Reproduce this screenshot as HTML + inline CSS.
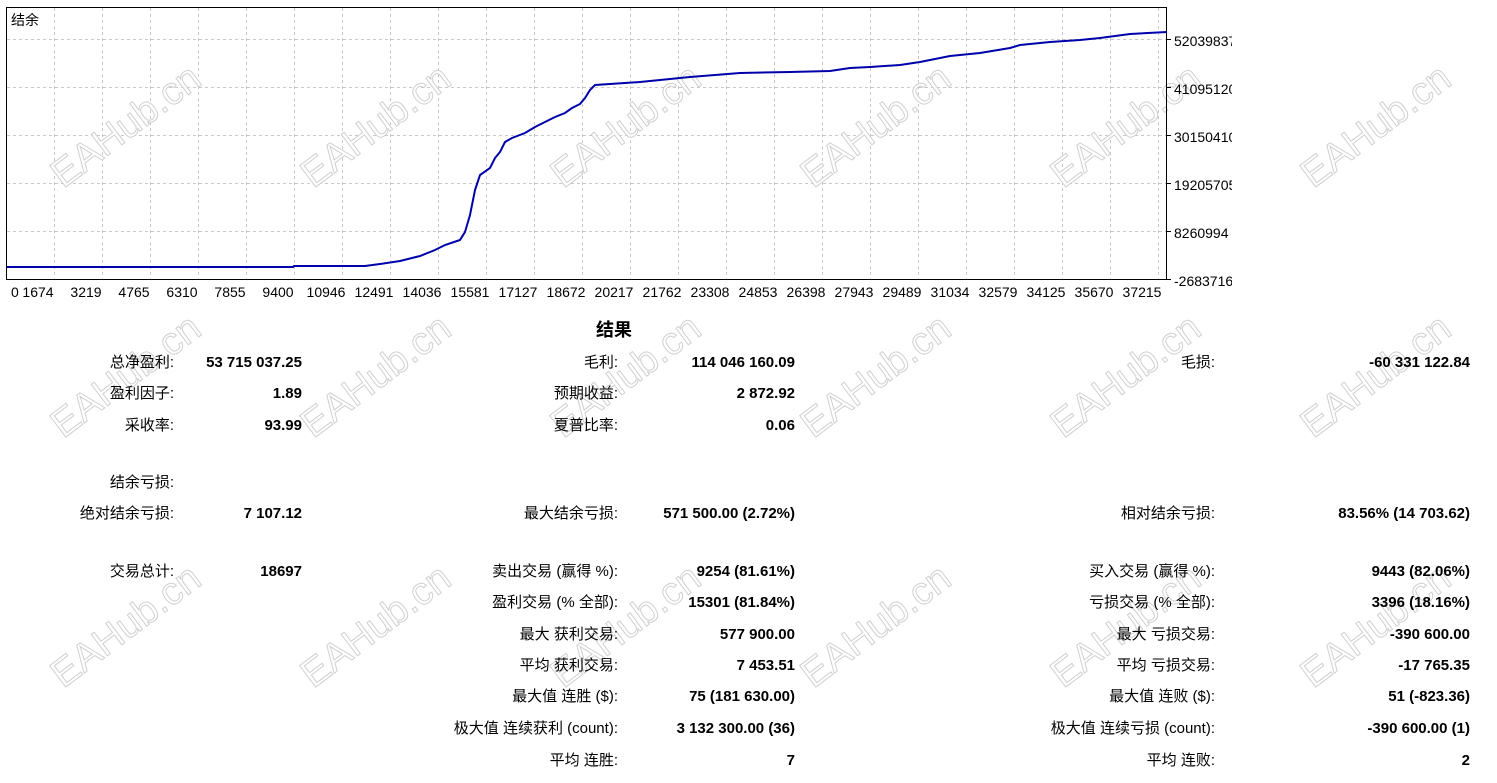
<!DOCTYPE html>
<html><head><meta charset="utf-8"><style>
body{margin:0;width:1497px;height:783px;background:#fff;position:relative;overflow:hidden;font-family:"Liberation Sans","Noto Sans CJK SC",sans-serif;}
.t{position:absolute;font-size:15px;line-height:18px;white-space:nowrap;color:#000}
.l{text-align:right}
.v{text-align:right;font-weight:bold}
</style></head><body>
<svg width="1497" height="783" style="position:absolute;left:0;top:0" font-family="Liberation Sans, Noto Sans CJK SC, sans-serif">
<g stroke="#c8c8c8" stroke-dasharray="3,3" stroke-width="1">
<line x1="7" y1="39.5" x2="1166" y2="39.5"/><line x1="7" y1="87.5" x2="1166" y2="87.5"/><line x1="7" y1="135.5" x2="1166" y2="135.5"/><line x1="7" y1="183.5" x2="1166" y2="183.5"/><line x1="7" y1="231.5" x2="1166" y2="231.5"/>
<line x1="54.5" y1="8" x2="54.5" y2="279"/><line x1="102.5" y1="8" x2="102.5" y2="279"/><line x1="150.5" y1="8" x2="150.5" y2="279"/><line x1="198.5" y1="8" x2="198.5" y2="279"/><line x1="246.5" y1="8" x2="246.5" y2="279"/><line x1="294.5" y1="8" x2="294.5" y2="279"/><line x1="342.5" y1="8" x2="342.5" y2="279"/><line x1="390.5" y1="8" x2="390.5" y2="279"/><line x1="438.5" y1="8" x2="438.5" y2="279"/><line x1="486.5" y1="8" x2="486.5" y2="279"/><line x1="534.5" y1="8" x2="534.5" y2="279"/><line x1="582.5" y1="8" x2="582.5" y2="279"/><line x1="630.5" y1="8" x2="630.5" y2="279"/><line x1="678.5" y1="8" x2="678.5" y2="279"/><line x1="726.5" y1="8" x2="726.5" y2="279"/><line x1="774.5" y1="8" x2="774.5" y2="279"/><line x1="822.5" y1="8" x2="822.5" y2="279"/><line x1="870.5" y1="8" x2="870.5" y2="279"/><line x1="918.5" y1="8" x2="918.5" y2="279"/><line x1="966.5" y1="8" x2="966.5" y2="279"/><line x1="1014.5" y1="8" x2="1014.5" y2="279"/><line x1="1062.5" y1="8" x2="1062.5" y2="279"/><line x1="1110.5" y1="8" x2="1110.5" y2="279"/><line x1="1158.5" y1="8" x2="1158.5" y2="279"/>
</g>
<g fill="#fff" stroke="#d0d0d0" stroke-width="1" font-size="39">
<text transform="translate(125,125) rotate(-37)" text-anchor="middle" dy="14">EAHub.cn</text>
<text transform="translate(375,125) rotate(-37)" text-anchor="middle" dy="14">EAHub.cn</text>
<text transform="translate(625,125) rotate(-37)" text-anchor="middle" dy="14">EAHub.cn</text>
<text transform="translate(875,125) rotate(-37)" text-anchor="middle" dy="14">EAHub.cn</text>
<text transform="translate(1125,125) rotate(-37)" text-anchor="middle" dy="14">EAHub.cn</text>
<text transform="translate(1375,125) rotate(-37)" text-anchor="middle" dy="14">EAHub.cn</text>
<text transform="translate(125,375) rotate(-37)" text-anchor="middle" dy="14">EAHub.cn</text>
<text transform="translate(375,375) rotate(-37)" text-anchor="middle" dy="14">EAHub.cn</text>
<text transform="translate(625,375) rotate(-37)" text-anchor="middle" dy="14">EAHub.cn</text>
<text transform="translate(875,375) rotate(-37)" text-anchor="middle" dy="14">EAHub.cn</text>
<text transform="translate(1125,375) rotate(-37)" text-anchor="middle" dy="14">EAHub.cn</text>
<text transform="translate(1375,375) rotate(-37)" text-anchor="middle" dy="14">EAHub.cn</text>
<text transform="translate(125,625) rotate(-37)" text-anchor="middle" dy="14">EAHub.cn</text>
<text transform="translate(375,625) rotate(-37)" text-anchor="middle" dy="14">EAHub.cn</text>
<text transform="translate(625,625) rotate(-37)" text-anchor="middle" dy="14">EAHub.cn</text>
<text transform="translate(875,625) rotate(-37)" text-anchor="middle" dy="14">EAHub.cn</text>
<text transform="translate(1125,625) rotate(-37)" text-anchor="middle" dy="14">EAHub.cn</text>
<text transform="translate(1375,625) rotate(-37)" text-anchor="middle" dy="14">EAHub.cn</text>
</g>
<rect x="6.5" y="7.5" width="1160" height="272" fill="none" stroke="#000" stroke-width="1"/>
<polyline fill="none" stroke="#0000aa" stroke-width="2" points="7,267 293,267 294,266 365,266 380,264 400,261 420,256 435,250 445,245 460,240 465,232 470,215 475,190 480,175 490,168 495,158 500,152 505,142 512,138 525,133 535,127 545,122 555,117 565,113 572,108 580,104 585,98 590,90 595,85 640,82 690,77 740,73 790,72 830,71 850,68 870,67 900,65 920,62 935,59 950,56 980,53 1010,48 1020,45 1050,42 1080,40 1100,38 1130,34 1167,32"/>
<g font-size="14" fill="#000">
<text x="11" y="25">结余</text>
<text x="11" y="297">0</text>
<g text-anchor="middle">
<text x="38" y="297">1674</text><text x="86" y="297">3219</text><text x="134" y="297">4765</text><text x="182" y="297">6310</text><text x="230" y="297">7855</text><text x="278" y="297">9400</text><text x="326" y="297">10946</text><text x="374" y="297">12491</text><text x="422" y="297">14036</text><text x="470" y="297">15581</text><text x="518" y="297">17127</text><text x="566" y="297">18672</text><text x="614" y="297">20217</text><text x="662" y="297">21762</text><text x="710" y="297">23308</text><text x="758" y="297">24853</text><text x="806" y="297">26398</text><text x="854" y="297">27943</text><text x="902" y="297">29489</text><text x="950" y="297">31034</text><text x="998" y="297">32579</text><text x="1046" y="297">34125</text><text x="1094" y="297">35670</text><text x="1142" y="297">37215</text>
</g>
<g stroke="#000"><line x1="1167" y1="39.5" x2="1171" y2="39.5"/><line x1="1167" y1="87.5" x2="1171" y2="87.5"/><line x1="1167" y1="135.5" x2="1171" y2="135.5"/><line x1="1167" y1="183.5" x2="1171" y2="183.5"/><line x1="1167" y1="231.5" x2="1171" y2="231.5"/><line x1="1167" y1="279.5" x2="1171" y2="279.5"/></g>
<svg x="1172" y="0" width="60" height="300"><g font-size="14">
<text x="2" y="46">52039837</text><text x="2" y="94">41095120</text><text x="2" y="142">30150410</text><text x="2" y="190">19205705</text><text x="2" y="238">8260994</text><text x="2" y="286">-2683716</text></g></svg>
</g>
</svg>
<div class="t" style="left:596px;top:320px;font-size:18px;font-weight:bold;line-height:20px">结果</div>

<div class="t l" style="right:1323px;top:354px">总净盈利:</div><div class="t v" style="right:1195px;top:354px">53 715 037.25</div>
<div class="t l" style="right:1323px;top:385px">盈利因子:</div><div class="t v" style="right:1195px;top:385px">1.89</div>
<div class="t l" style="right:1323px;top:417px">采收率:</div><div class="t v" style="right:1195px;top:417px">93.99</div>
<div class="t l" style="right:1323px;top:474px">结余亏损:</div>
<div class="t l" style="right:1323px;top:505px">绝对结余亏损:</div><div class="t v" style="right:1195px;top:505px">7 107.12</div>
<div class="t l" style="right:1323px;top:563px">交易总计:</div><div class="t v" style="right:1195px;top:563px">18697</div>

<div class="t l" style="right:879px;top:354px">毛利:</div><div class="t v" style="right:702px;top:354px">114 046 160.09</div>
<div class="t l" style="right:879px;top:385px">预期收益:</div><div class="t v" style="right:702px;top:385px">2 872.92</div>
<div class="t l" style="right:879px;top:417px">夏普比率:</div><div class="t v" style="right:702px;top:417px">0.06</div>
<div class="t l" style="right:879px;top:505px">最大结余亏损:</div><div class="t v" style="right:702px;top:505px">571 500.00 (2.72%)</div>
<div class="t l" style="right:879px;top:563px">卖出交易 (赢得 %):</div><div class="t v" style="right:702px;top:563px">9254 (81.61%)</div>
<div class="t l" style="right:879px;top:594px">盈利交易 (% 全部):</div><div class="t v" style="right:702px;top:594px">15301 (81.84%)</div>
<div class="t l" style="right:879px;top:626px">最大 获利交易:</div><div class="t v" style="right:702px;top:626px">577 900.00</div>
<div class="t l" style="right:879px;top:657px">平均 获利交易:</div><div class="t v" style="right:702px;top:657px">7 453.51</div>
<div class="t l" style="right:879px;top:688px">最大值 连胜 ($):</div><div class="t v" style="right:702px;top:688px">75 (181 630.00)</div>
<div class="t l" style="right:879px;top:720px">极大值 连续获利 (count):</div><div class="t v" style="right:702px;top:720px">3 132 300.00 (36)</div>
<div class="t l" style="right:879px;top:752px">平均 连胜:</div><div class="t v" style="right:702px;top:752px">7</div>

<div class="t l" style="right:282px;top:354px">毛损:</div><div class="t v" style="right:27px;top:354px">-60 331 122.84</div>
<div class="t l" style="right:282px;top:505px">相对结余亏损:</div><div class="t v" style="right:27px;top:505px">83.56% (14 703.62)</div>
<div class="t l" style="right:282px;top:563px">买入交易 (赢得 %):</div><div class="t v" style="right:27px;top:563px">9443 (82.06%)</div>
<div class="t l" style="right:282px;top:594px">亏损交易 (% 全部):</div><div class="t v" style="right:27px;top:594px">3396 (18.16%)</div>
<div class="t l" style="right:282px;top:626px">最大 亏损交易:</div><div class="t v" style="right:27px;top:626px">-390 600.00</div>
<div class="t l" style="right:282px;top:657px">平均 亏损交易:</div><div class="t v" style="right:27px;top:657px">-17 765.35</div>
<div class="t l" style="right:282px;top:688px">最大值 连败 ($):</div><div class="t v" style="right:27px;top:688px">51 (-823.36)</div>
<div class="t l" style="right:282px;top:720px">极大值 连续亏损 (count):</div><div class="t v" style="right:27px;top:720px">-390 600.00 (1)</div>
<div class="t l" style="right:282px;top:752px">平均 连败:</div><div class="t v" style="right:27px;top:752px">2</div>
</body></html>
